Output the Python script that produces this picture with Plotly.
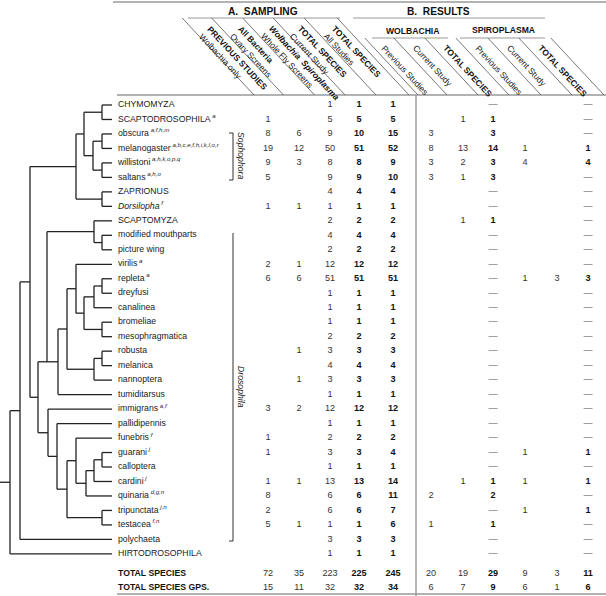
import math
import plotly.graph_objects as go

N = None
# ---------------- data ----------------
taxa = ["CHYMOMYZA", "SCAPTODROSOPHILA", "obscura", "melanogaster", "willistoni", "saltans",
        "ZAPRIONUS", "Dorsilopha", "SCAPTOMYZA", "modified mouthparts", "picture wing",
        "virilis", "repleta", "dreyfusi", "canalinea", "bromeliae", "mesophragmatica",
        "robusta", "melanica", "nannoptera", "tumiditarsus", "immigrans", "pallidipennis",
        "funebris", "guarani", "calloptera", "cardini", "quinaria", "tripunctata", "testacea",
        "polychaeta", "HIRTODROSOPHILA"]
refs = ["", "a", "a,f,h,m", "a,b,c,e,f,h,i,k,l,o,r", "a,h,k,o,p,q", "a,h,o",
        "", "f", "", "", "",
        "a", "a", "", "", "", "",
        "", "", "", "", "a,f", "",
        "f", "j", "", "j", "d,g,n", "j,n", "f,n",
        "", ""]
italic_taxa = ["Dorsilopha"]
summary_labels = ["TOTAL SPECIES", "TOTAL SPECIES GPS."]

prev_studies  = [N, 1, 8, 19, 9, 5, N, 1, N, N, N, 2, 6, N, N, N, N, N, N, N, N, 3, N, 1, 1, N, 1, 8, 2, 5, N, N]
ovary_screens = [N, N, 6, 12, 3, N, N, 1, N, N, N, 1, 6, N, N, N, N, 1, N, 1, N, 2, N, N, N, N, 1, N, N, 1, N, N]
whole_fly     = [1, 5, 9, 50, 8, 9, 4, 1, 2, 4, 2, 12, 51, 1, 1, 1, 2, 3, 4, 3, 1, 12, 1, 2, 3, 1, 13, 6, 6, 1, 3, 1]
total_current = [1, 5, 10, 51, 8, 9, 4, 1, 2, 4, 2, 12, 51, 1, 1, 1, 2, 3, 4, 3, 1, 12, 1, 2, 3, 1, 13, 6, 6, 1, 3, 1]
total_all     = [1, 5, 15, 52, 9, 10, 4, 1, 2, 4, 2, 12, 51, 1, 1, 1, 2, 3, 4, 3, 1, 12, 1, 2, 4, 1, 14, 11, 7, 6, 3, 1]
wol_prev      = [N, N, 3, 8, 3, 3, N, N, N, N, N, N, N, N, N, N, N, N, N, N, N, N, N, N, N, N, N, 2, N, 1, N, N]
wol_curr      = [N, 1, N, 13, 2, 1, N, N, 1, N, N, N, N, N, N, N, N, N, N, N, N, N, N, N, N, N, 1, N, N, N, N, N]
wol_total     = [0, 1, 3, 14, 3, 3, 0, 0, 1, 0, 0, 0, 0, 0, 0, 0, 0, 0, 0, 0, 0, 0, 0, 0, 0, 0, 1, 2, 0, 1, 0, 0]
spi_prev      = [N, N, N, 1, 4, N, N, N, N, N, N, N, 1, N, N, N, N, N, N, N, N, N, N, N, 1, N, 1, N, 1, N, N, N]
spi_curr      = [N, N, N, N, N, N, N, N, N, N, N, N, 3, N, N, N, N, N, N, N, N, N, N, N, N, N, N, N, N, N, N, N]
spi_total     = [0, 0, 0, 1, 4, 0, 0, 0, 0, 0, 0, 0, 3, 0, 0, 0, 0, 0, 0, 0, 0, 0, 0, 0, 1, 0, 1, 0, 1, 0, 0, 0]
total_species = [72, 35, 223, 225, 245, 20, 19, 29, 9, 3, 11]
total_groups  = [15, 11, 32, 32, 34, 6, 7, 9, 6, 1, 6]

sampling_headers = [("PREVIOUS STUDIES", "Wolbachia only"), ("All Bacteria", "Ovary Screens"),
                    ("<i>Wolbachia</i>  <i>Spiroplasma</i>", "Whole Fly Screens"),
                    ("TOTAL SPECIES", "Current Study"), ("TOTAL SPECIES", "All Studies")]
results_headers = ["Previous Studies", "Current Study", "<b>TOTAL SPECIES</b>",
                   "Previous Studies", "Current Study", "<b>TOTAL SPECIES</b>"]

# ---------------- geometry ----------------
W, H = 606, 596
FONT = "Liberation Sans, Arial, sans-serif"
FS = 8.7
FSN = 9.1
ROW0, STEP = 105.0, 14.48
def row_y(i):
    return ROW0 + i * STEP
TOT_Y = [574.0, 588.0]
col_x = [268, 299, 330, 359, 393, 431, 463, 493, 525, 557, 588]
bold_cols = {3, 4, 7, 10}
dash_cols = {7, 10}
LEAF_X, LABEL_X = 112, 118
ANG = 47.0
tanA = math.tan(math.radians(ANG))

fig = go.Figure()

# ---------------- tree ----------------
def T(x, *kids):
    return (x, kids, "mid")
def TB(x, *kids):          # node whose stem leaves from the bottom of its bar
    return (x, kids, "bottom")

tree = T(10,
         T(20,
           T(30,
             T(76,
               T(84, T(102, 0, 1), T(93, T(102, 2, 3), T(102, 4, 5))),
               T(102, 6, 7)),
             T(38,
               TB(47,
                  T(94, 8, T(102, 9, 10)),
                  T(58,
                    T(67,
                      T(76, 11, T(84, T(94, T(102, 12, 13), 14), T(102, 15, 16))),
                      T(94, T(102, 17, 18), 19)),
                    20)),
               T(48, 21, T(57, 22, T(67, T(76, 23, T(86, T(94, T(102, 24, 25), 26), 27)),
                                     T(102, 28, 29)))))),
           30),
         31)

tx, ty = [], []
def draw(node, px):
    if isinstance(node, int):
        y = row_y(node)
        tx.extend([px, LEAF_X, None]); ty.extend([y, y, None])
        return y
    x, kids, mode = node
    ys = [draw(k, x) for k in kids]
    y = max(ys) if mode == "bottom" else (min(ys) + max(ys)) / 2
    tx.extend([x, x, None]); ty.extend([min(ys), max(ys), None])
    tx.extend([px, x, None]); ty.extend([y, y, None])
    return y
draw(tree, 0)
fig.add_trace(go.Scatter(x=tx, y=ty, mode="lines", line=dict(color="#222", width=1.3),
                         hoverinfo="skip", showlegend=False))

# ---------------- row labels ----------------
lab = []
for name, r in zip(taxa, refs):
    t = f"<i>{name}</i>" if name in italic_taxa else name
    if r:
        t += f"\u2009<sup><i>{r}</i></sup>"
    lab.append(t)
fig.add_trace(go.Scatter(x=[LABEL_X] * len(taxa), y=[row_y(i) for i in range(len(taxa))],
                         mode="text", text=lab, textposition="middle right",
                         textfont=dict(family=FONT, size=FS, color="#1a1a1a"),
                         hoverinfo="skip", showlegend=False))
fig.add_trace(go.Scatter(x=[LABEL_X] * 2, y=TOT_Y, mode="text",
                         text=[f"<b>{s}</b>" for s in summary_labels], textposition="middle right",
                         textfont=dict(family=FONT, size=FS, color="#111"),
                         hoverinfo="skip", showlegend=False))

# ---------------- table values ----------------
columns = [prev_studies, ovary_screens, whole_fly, total_current, total_all,
           wol_prev, wol_curr, wol_total, spi_prev, spi_curr, spi_total]
vx, vy, vt, vc = [], [], [], []
for c, vals in enumerate(columns):
    for i, v in enumerate(vals):
        if v is None:
            continue
        if v == 0 and c in dash_cols:
            s, col = "—", "#555"
        elif c in bold_cols:
            s, col = f"<b>{v}</b>", "#111"
        else:
            s, col = str(v), "#333"
        vx.append(col_x[c]); vy.append(row_y(i)); vt.append(s); vc.append(col)
for yy, vals in zip(TOT_Y, [total_species, total_groups]):
    for c, v in enumerate(vals):
        vx.append(col_x[c]); vy.append(yy)
        vt.append(f"<b>{v}</b>" if c in bold_cols else str(v))
        vc.append("#111" if c in bold_cols else "#333")
fig.add_trace(go.Scatter(x=vx, y=vy, mode="text", text=vt, textposition="middle center",
                         textfont=dict(family=FONT, size=FSN, color=vc),
                         hoverinfo="skip", showlegend=False))

# ---------------- lines ----------------
shapes = []
def line(x0, y0, x1, y1, color="#999", width=1.2):
    shapes.append(dict(type="line", xref="x", yref="y", x0=x0, y0=y0, x1=x1, y1=y1,
                       line=dict(color=color, width=width)))

line(113, 2, W, 2, width=1.6)
line(188, 18, 340, 18)          # under A. SAMPLING
line(353, 18, 545, 18)          # under B. RESULTS
line(372, 38, 448, 38)          # under WOLBACHIA
line(460, 38, 545, 38)          # under SPIROPLASMA
line(117, 95, W, 95, width=1.4)
line(416, 95, 416, H, width=1.4)
line(117, 594, W, 594, width=1.4)

a_bottoms = [254, 283.5, 314.5, 345, 376, 409]
for xb in a_bottoms:
    line(xb - 77 / tanA, 18, xb, 95, color="#555", width=0.8)
b_bottoms = [418, 447, 478, 509, 541, 572, 604]
for xb in b_bottoms:
    line(xb - 57 / tanA, 38, xb, 95, color="#555", width=0.8)

# brackets
line(233, 133, 233, 180, color="#333", width=1)
line(229, 133, 233, 133, color="#333", width=1)
line(229, 180, 233, 180, color="#333", width=1)
line(233, 233, 233, 541, color="#333", width=1)
line(229, 541, 233, 541, color="#333", width=1)

# ---------------- annotations ----------------
ann = []
def text(x, y, s, size=FS, angle=0, xa="center", ya="middle", align="center", color="#111"):
    ann.append(dict(x=x, y=y, xref="x", yref="y", text=s, showarrow=False, textangle=angle,
                    xanchor=xa, yanchor=ya, align=align,
                    font=dict(family=FONT, size=size, color=color)))

text(263, 11, "<b>A.\u00a0 SAMPLING</b>", size=10.2)
text(438, 11, "<b>B.\u00a0 RESULTS</b>", size=10.2)
text(412, 31, "<b>WOLBACHIA</b>", size=8.6)
text(503, 30, "<b>SPIROPLASMA</b>", size=8.6)
text(241, 156, "<i>Sophophora</i>", angle=90, color="#222")
text(241, 387, "<i>Drosophila</i>", angle=90, color="#222")

sinA, cosA = math.sin(math.radians(ANG)), math.cos(math.radians(ANG))
HS = 8.5
for c, (top, sub) in enumerate(sampling_headers):
    sx, sy = col_x[c] - 65, 29
    h2 = 12
    text(sx - h2 * sinA, sy - h2 * cosA, f"<b>{top}</b><br>{sub}", size=HS, angle=ANG,
         xa="left", ya="top", align="left", color="#111")
for k, s in enumerate(results_headers):
    c = 5 + k
    sx, sy = col_x[c] - 50, 45
    h2 = 6.5
    text(sx - h2 * sinA, sy - h2 * cosA, s, size=HS, angle=ANG,
         xa="left", ya="top", align="left", color="#111")

fig.update_layout(width=W, height=H, margin=dict(l=0, r=0, t=0, b=0),
                  paper_bgcolor="white", plot_bgcolor="white",
                  xaxis=dict(range=[0, W], visible=False, fixedrange=True),
                  yaxis=dict(range=[H, 0], visible=False, fixedrange=True),
                  shapes=shapes, annotations=ann, showlegend=False)
fig.write_html("out.html", config={"displayModeBar": False},
               post_script="document.body.style.margin='0px';document.body.style.overflow='hidden';")
